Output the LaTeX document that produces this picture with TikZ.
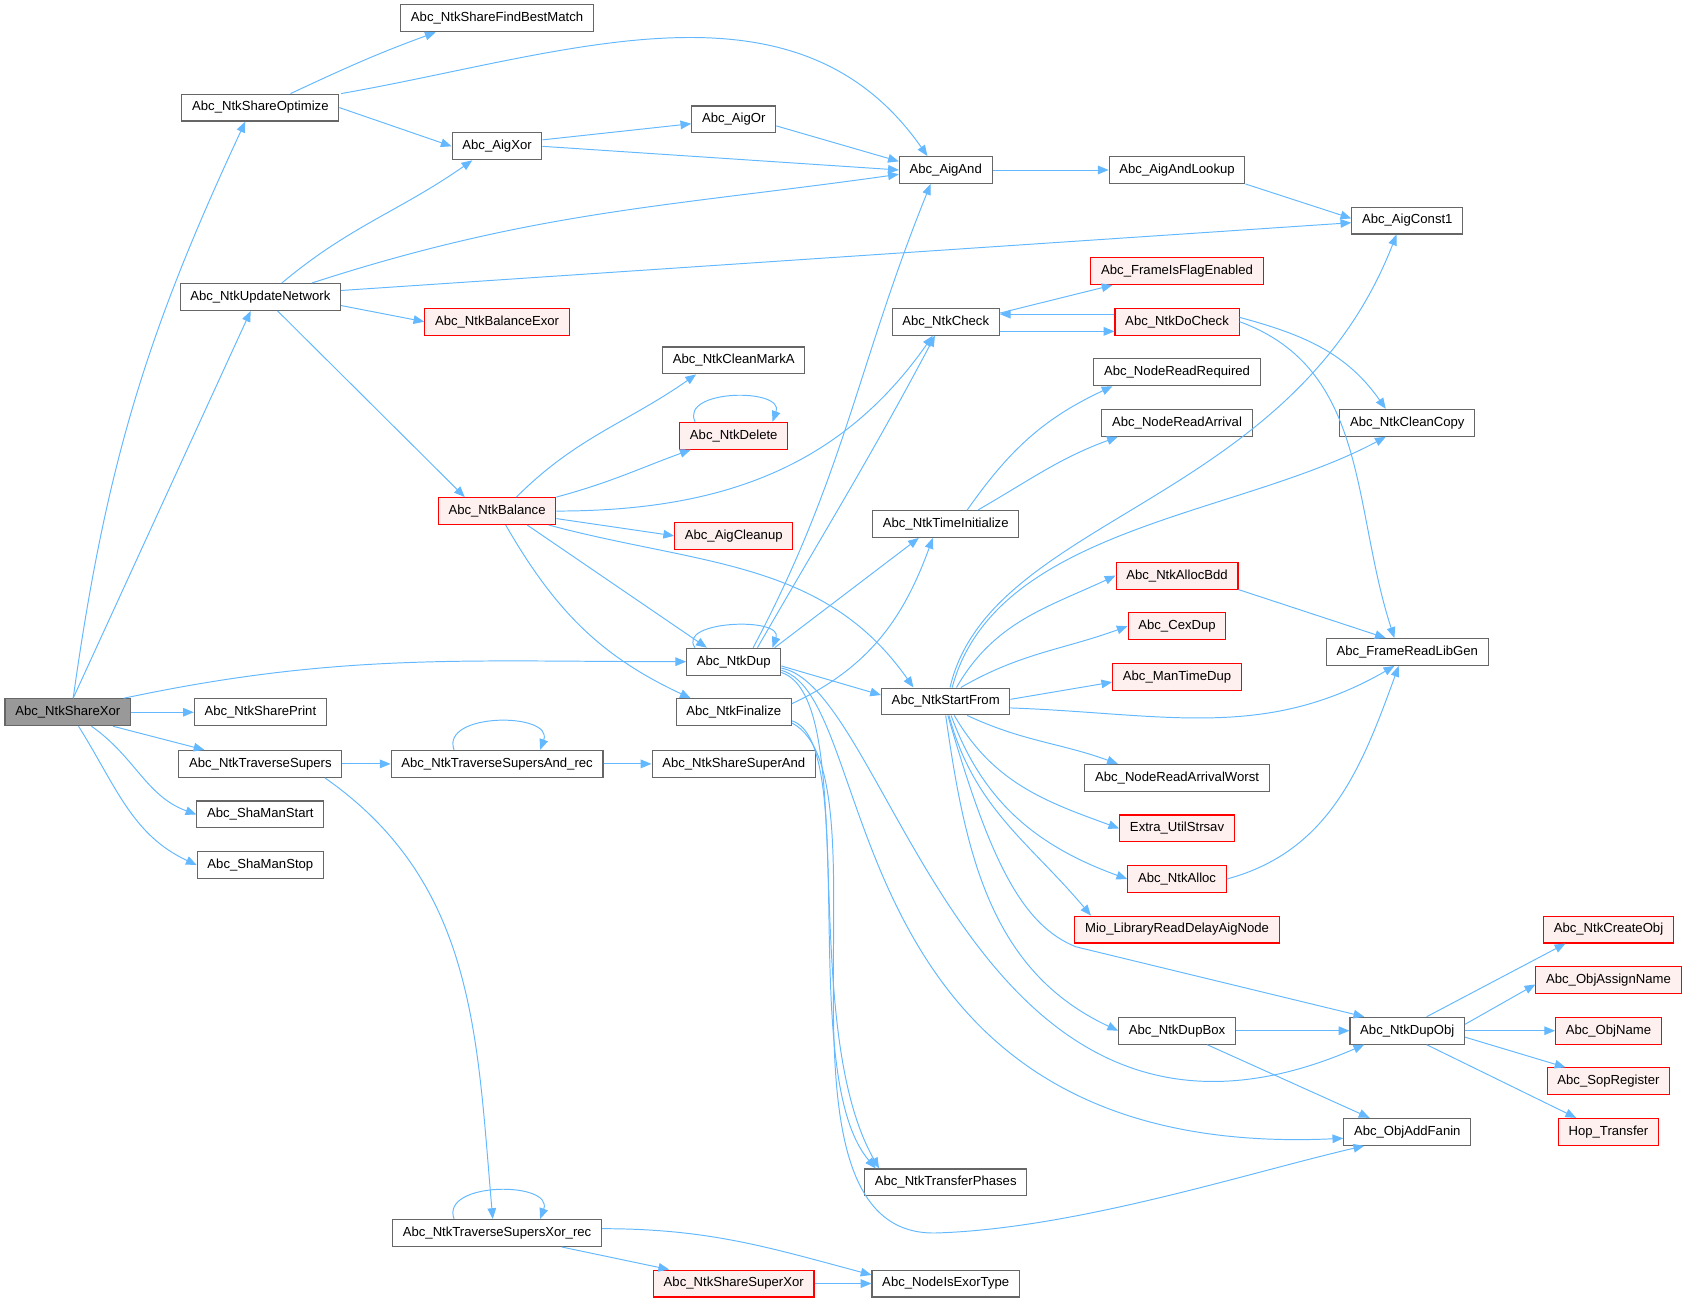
\documentclass[tikz,border=0pt]{standalone}
\usepackage{fontspec}
\setmainfont{Liberation Sans}
\usetikzlibrary{arrows.meta}
\definecolor{edgeblue}{RGB}{99,184,255}
\definecolor{boxgray}{RGB}{102,102,102}
\definecolor{hotfill}{RGB}{255,240,240}

\begin{document}
\begin{tikzpicture}[
		x=1pt, y=-1pt,
		fn/.style={draw=boxgray, fill=white, line width=1pt, rectangle, minimum height=25pt, inner xsep=9.5pt, inner ysep=0pt, font=\fontsize{12.2}{14}\selectfont},
		hot/.style={fn, draw=red, fill=hotfill},
		root/.style={fn, fill=black!40},
		call/.style={-{Triangle[length=10pt,width=8pt]}, draw=edgeblue, line width=0.9pt}
		]
		\useasboundingbox (0,0) rectangle (1568,1212);
		
		% left column
		\node[root] (sxor) at (63,662) {Abc\_NtkShareXor};
		\node[fn] (optim) at (242,100) {Abc\_NtkShareOptimize};
		\node[fn] (updnet) at (242,276) {Abc\_NtkUpdateNetwork};
		\node[fn] (shprint) at (242,662) {Abc\_NtkSharePrint};
		\node[fn] (travsup) at (242,710) {Abc\_NtkTraverseSupers};
		\node[fn] (shastart) at (242,757) {Abc\_ShaManStart};
		\node[fn] (shastop) at (242,804) {Abc\_ShaManStop};
		
		% second column
		\node[fn] (bestm) at (462,17) {Abc\_NtkShareFindBestMatch};
		\node[fn] (aigxor) at (462,136) {Abc\_AigXor};
		\node[hot] (balexor) at (462,299) {Abc\_NtkBalanceExor};
		\node[hot] (balance) at (462,475) {Abc\_NtkBalance};
		\node[fn] (andrec) at (462,710) {Abc\_NtkTraverseSupersAnd\_rec};
		\node[fn] (xorrec) at (462,1146) {Abc\_NtkTraverseSupersXor\_rec};
		
		% third column
		\node[fn] (aigor) at (682,111) {Abc\_AigOr};
		\node[fn] (markA) at (682,335) {Abc\_NtkCleanMarkA};
		\node[hot] (ntkdel) at (682,405) {Abc\_NtkDelete};
		\node[hot] (aigclean) at (682,498) {Abc\_AigCleanup};
		\node[fn] (ntkdup) at (682,615) {Abc\_NtkDup};
		\node[fn] (finalize) at (682,662) {Abc\_NtkFinalize};
		\node[fn] (supand) at (682,710) {Abc\_NtkShareSuperAnd};
		\node[hot] (supxor) at (682,1193) {Abc\_NtkShareSuperXor};
		
		% fourth column
		\node[fn] (aigand) at (879,158) {Abc\_AigAnd};
		\node[fn] (ntkchk) at (879,299) {Abc\_NtkCheck};
		\node[fn] (timeinit) at (879,487) {Abc\_NtkTimeInitialize};
		\node[fn] (startfrom) at (879,652) {Abc\_NtkStartFrom};
		\node[fn] (transph) at (879,1099) {Abc\_NtkTransferPhases};
		\node[fn] (exortype) at (879,1193) {Abc\_NodeIsExorType};
		
		% fifth column
		\node[fn] (andlook) at (1094,158) {Abc\_AigAndLookup};
		\node[hot] (flagen) at (1094,252) {Abc\_FrameIsFlagEnabled};
		\node[hot] (dochk) at (1094,299) {Abc\_NtkDoCheck};
		\node[fn] (readreq) at (1094,346) {Abc\_NodeReadRequired};
		\node[fn] (readarr) at (1094,393) {Abc\_NodeReadArrival};
		\node[hot] (allocbdd) at (1094,535) {Abc\_NtkAllocBdd};
		\node[hot] (cexdup) at (1094,582) {Abc\_CexDup};
		\node[hot] (mantime) at (1094,629) {Abc\_ManTimeDup};
		\node[fn] (arrworst) at (1094,723) {Abc\_NodeReadArrivalWorst};
		\node[hot] (strsav) at (1094,770) {Extra\_UtilStrsav};
		\node[hot] (ntkalloc) at (1094,817) {Abc\_NtkAlloc};
		\node[hot] (mio) at (1094,864) {Mio\_LibraryReadDelayAigNode};
		\node[fn] (dupbox) at (1094,958) {Abc\_NtkDupBox};
		
		% sixth column
		\node[fn] (const1) at (1308,205) {Abc\_AigConst1};
		\node[fn] (cleancopy) at (1308,393) {Abc\_NtkCleanCopy};
		\node[fn] (libgen) at (1308,606) {Abc\_FrameReadLibGen};
		\node[fn] (dupobj) at (1308,958) {Abc\_NtkDupObj};
		\node[fn] (addfanin) at (1308,1052) {Abc\_ObjAddFanin};
		
		% last column
		\node[hot] (createobj) at (1495,864) {Abc\_NtkCreateObj};
		\node[hot] (assignname) at (1495,911) {Abc\_ObjAssignName};
		\node[hot] (objname) at (1495,958) {Abc\_ObjName};
		\node[hot] (sopreg) at (1495,1005) {Abc\_SopRegister};
		\node[hot] (hoptr) at (1495,1052) {Hop\_Transfer};
		
		% calls of Abc_NtkShareXor
		\draw[call] ([xshift=5pt]sxor.north) to[out=82,in=-115] ([xshift=-14pt]optim.south);
		\draw[call] ([xshift=5pt]sxor.north) -- ([xshift=-9pt]updnet.south);
		\draw[call] ([xshift=52pt]sxor.north) to[out=12,in=180] (ntkdup.west);
		\draw[call] (sxor) -- (shprint);
		\draw[call] ([xshift=42pt]sxor.south) -- ([xshift=-52pt]travsup.north);
		\draw[call] ([xshift=22pt]sxor.south) to[out=-35,in=160] (shastart.west);
		\draw[call] ([xshift=10pt]sxor.south) to[out=-58,in=155] (shastop.west);
		
		% upper part
		\draw[call] ([xshift=28pt]optim.north) to[out=25,in=-160] ([xshift=-57pt]bestm.south);
		\draw[call] ([xshift=75pt]optim.north) to[out=10,in=125] ([xshift=-17pt]aigand.north);
		\draw[call] (optim.east) -- (aigxor.west);
		\draw[call] ([yshift=6pt]aigxor.east) -- ([yshift=-4pt]aigor.west);
		\draw[call] (aigxor.east) -- (aigand.west);
		\draw[call] ([yshift=-6pt]aigor.east) -- ([yshift=8pt]aigand.west);
		\draw[call] (aigand) -- (andlook);
		\draw[call] (andlook.south east) -- ([yshift=2pt]const1.west);
		\draw[call] ([xshift=20pt]updnet.north) to[out=40,in=-145] ([xshift=-23pt]aigxor.south);
		\draw[call] ([xshift=48pt]updnet.north) to[out=18,in=188] ([yshift=-4pt]aigand.west);
		\draw[call] ([yshift=6pt]updnet.east) -- ([yshift=-2pt]const1.west);
		\draw[call] ([yshift=-8pt]updnet.east) -- (balexor.west);
		\draw[call] ([xshift=16pt]updnet.south) -- ([xshift=-30pt]balance.north);
		
		% Abc_NtkBalance
		\draw[call] ([xshift=18pt]balance.north) to[out=45,in=-145] ([xshift=-35pt]markA.south);
		\draw[call] (balance.north east) to[out=15,in=-160] ([xshift=-40pt]ntkdel.south);
		\draw[call] (balance.east) to[out=0,in=-125] ([xshift=-12pt]ntkchk.south);
		\draw[call] ([yshift=-7pt]balance.east) -- (aigclean.west);
		\draw[call] ([xshift=28pt]balance.south) -- ([xshift=-25pt]ntkdup.north);
		\draw[call] ([xshift=8pt]balance.south) to[out=-60,in=155] ([xshift=-40pt]finalize.north);
		\draw[call] ([xshift=48pt]balance.south) to[out=-15,in=125] ([xshift=-30pt]startfrom.north);
		\draw[call] ([xshift=-36pt]ntkdel.north) to[out=115,in=70,looseness=1.2] ([xshift=36pt]ntkdel.north);
		
		% Abc_NtkCheck
		\draw[call] ([yshift=8pt]ntkchk.east) -- ([xshift=-60pt]flagen.south);
		\draw[call] ([yshift=-9pt]ntkchk.east) to[out=0,in=180] ([yshift=-9pt]dochk.west);
		\draw[call] ([yshift=7pt]dochk.west) to[out=180,in=0] ([yshift=7pt]ntkchk.east);
		\draw[call] ([yshift=4pt]dochk.east) to[out=-15,in=125] ([xshift=-20pt]cleancopy.north);
		\draw[call] (dochk.east) to[out=-20,in=108] ([xshift=-12pt]libgen.north);
		
		% Abc_NtkDup
		\draw[call] ([xshift=-36pt]ntkdup.north) to[out=125,in=70,looseness=1.1] ([xshift=36pt]ntkdup.north);
		\draw[call] ([xshift=18pt]ntkdup.north) to[out=62,in=-112] ([xshift=-14pt]aigand.south);
		\draw[call] ([xshift=22pt]ntkdup.north) to[out=60,in=-118] ([xshift=-10pt]ntkchk.south);
		\draw[call] ([xshift=38pt]ntkdup.north) -- ([xshift=-25pt]timeinit.south);
		\draw[call] ([yshift=-4pt]ntkdup.east) -- ([yshift=6pt]startfrom.west);
		\draw[call] ([yshift=-6pt]ntkdup.east) .. controls (830,640) and (900,1130) .. ([xshift=-40pt]dupobj.south);
		\draw[call] ([yshift=-8pt]ntkdup.east) .. controls (820,650) and (770,1080) .. ([yshift=-6pt]addfanin.west);
		\draw[call] ([yshift=-10pt]ntkdup.east) .. controls (800,650) and (740,950) .. ([xshift=-62pt]transph.north);
		
		% Abc_NtkFinalize
		\draw[call] ([yshift=8pt]finalize.east) to[out=25,in=-110] ([xshift=-12pt]timeinit.south);
		\draw[call] ([yshift=-8pt]finalize.east) .. controls (800,690) and (740,1000) .. ([xshift=-65pt]transph.north);
		\draw[call] ([yshift=-10pt]finalize.east) .. controls (830,720) and (700,1150) .. (870,1146)
			.. controls (1000,1142) and (1160,1090) .. ([xshift=-40pt]addfanin.south);
		
		% Abc_NtkTimeInitialize
		\draw[call] ([xshift=20pt]timeinit.north) to[out=55,in=-155] ([xshift=-60pt]readreq.south);
		\draw[call] ([xshift=30pt]timeinit.north) to[out=30,in=-160] ([xshift=-55pt]readarr.south);
		
		% Abc_NtkStartFrom
		\draw[call] ([xshift=4pt]startfrom.north) .. controls (920,480) and (1200,470) .. ([xshift=-10pt]const1.south);
		\draw[call] ([xshift=6pt]startfrom.north) .. controls (925,490) and (1150,480) .. ([xshift=-20pt]cleancopy.south);
		\draw[call] ([xshift=10pt]startfrom.north) to[out=60,in=-155] (allocbdd.west);
		\draw[call] ([xshift=14pt]startfrom.north) to[out=30,in=-160] (cexdup.west);
		\draw[call] ([yshift=2pt]startfrom.east) -- ([yshift=-5pt]mantime.west);
		\draw[call] ([yshift=-6pt]startfrom.east) to[out=-2,in=-150] ([xshift=-12pt]libgen.south);
		\draw[call] ([xshift=20pt]startfrom.south) to[out=-25,in=160] ([xshift=-55pt]arrworst.north);
		\draw[call] ([xshift=8pt]startfrom.south) to[out=-60,in=160] (strsav.west);
		\draw[call] ([xshift=5pt]startfrom.south) to[out=-70,in=160] (ntkalloc.west);
		\draw[call] ([xshift=3pt]startfrom.south) to[out=-75,in=130] ([xshift=-80pt]mio.north);
		\draw[call] ([xshift=0pt]startfrom.south) to[out=-82,in=155] (dupbox.west);
		\draw[call] ([xshift=2pt]startfrom.south) .. controls (920,800) and (950,860) .. (1000,880)
			-- ([xshift=-40pt]dupobj.north);
		\draw[call] (allocbdd.south east) -- ([xshift=-20pt]libgen.north);
		\draw[call] (ntkalloc.east) to[out=15,in=-110] ([xshift=-8pt]libgen.south);
		
		% Abc_NtkDupBox, Abc_NtkDupObj
		\draw[call] (dupbox) -- (dupobj);
		\draw[call] ([xshift=28pt]dupbox.south) -- ([xshift=-35pt]addfanin.north);
		\draw[call] ([xshift=18pt]dupobj.north) -- ([xshift=-40pt]createobj.south);
		\draw[call] ([yshift=6pt]dupobj.east) -- ([yshift=-4pt]assignname.west);
		\draw[call] (dupobj) -- (objname);
		\draw[call] ([yshift=-6pt]dupobj.east) -- ([xshift=-40pt]sopreg.north);
		\draw[call] ([xshift=18pt]dupobj.south) -- ([xshift=-30pt]hoptr.north);
		
		% Abc_NtkTraverseSupers
		\draw[call] (travsup) -- (andrec);
		\draw[call] ([xshift=60pt]travsup.south) to[out=-35,in=95] ([xshift=-4pt]xorrec.north);
		\draw[call] ([xshift=-40pt]andrec.north) to[out=110,in=70,looseness=1.2] ([xshift=40pt]andrec.north);
		\draw[call] (andrec) -- (supand);
		\draw[call] ([xshift=-40pt]xorrec.north) to[out=110,in=70,looseness=1.2] ([xshift=40pt]xorrec.north);
		\draw[call] ([xshift=60pt]xorrec.south) -- ([xshift=-60pt]supxor.north);
		\draw[call] ([yshift=4pt]xorrec.east) to[out=0,in=165] ([yshift=8pt]exortype.west);
		\draw[call] (supxor) -- (exortype);
		
	\end{tikzpicture}
\end{document}
